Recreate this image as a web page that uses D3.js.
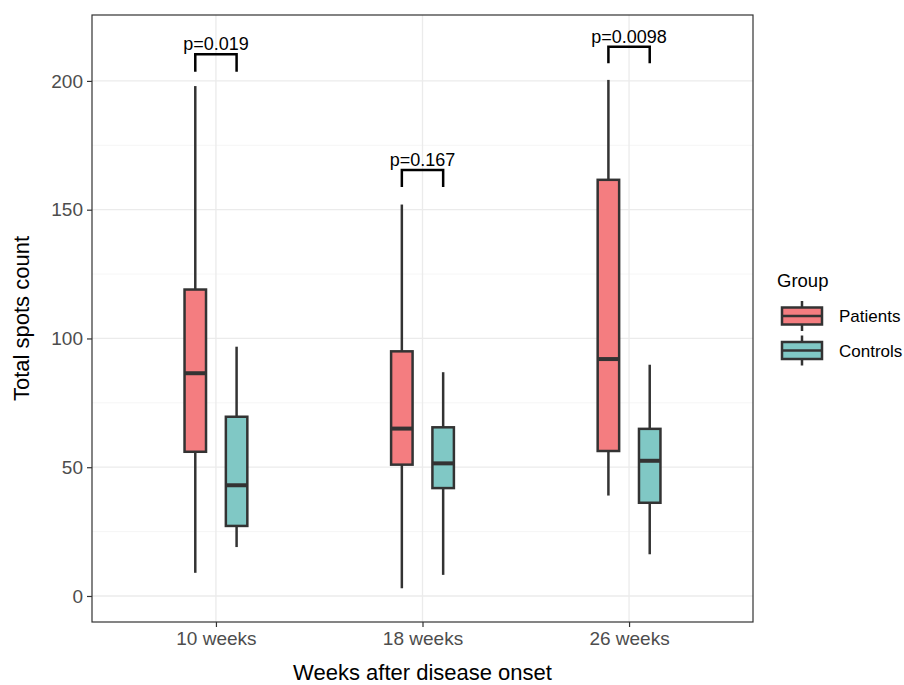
<!DOCTYPE html>
<html><head><meta charset="utf-8">
<script src="https://cdn.jsdelivr.net/npm/d3@7"></script>
<style>body{margin:0;background:#fff;font-family:Arial,"Liberation Sans",sans-serif;}</style>
</head><body><svg id="c" width="904" height="685"></svg>
<script>
const categories = ["10 weeks", "18 weeks", "26 weeks"];
const groups = ["Patients", "Controls"];
// [whiskerLow, q1, median, q3, whiskerHigh]
const patients = [[9, 56, 86.5, 119, 198], [3, 51, 65, 95, 152], [39, 56.3, 92, 161.6, 200.4]];
const controls = [[19, 27.2, 43, 69.6, 96.8], [8.2, 41.9, 51.5, 65.5, 86.9], [16.2, 36.2, 52.5, 64.9, 89.8]];
const pLabels = ["p=0.019", "p=0.167", "p=0.0098"];
const bracketTop = [210.4, 165.4, 213.3];
const bracketLeg = [203.6, 158.8, 206.9];
const yTicks = [0, 50, 100, 150, 200];
const yMinor = [25, 75, 125, 175];
const colors = {Patients: "#F47D80", Controls: "#80C8C5"};

const FONT = "Arial,'Liberation Sans',sans-serif";
const svg = d3.select("#c");
const L = 92, R = 753, T = 15, B = 622;
const y = d3.scaleLinear().domain([-10.1, 225.6]).range([B, T]);
const unit = (R - L) / 3.2;
const x = d3.scalePoint().domain(categories).range([L + 0.6 * unit, R - 0.6 * unit]);
const off = 0.1 * unit, bw = 0.104 * unit;

svg.append("rect").attr("x", L).attr("y", T).attr("width", R - L).attr("height", B - T).attr("fill", "#fff");
const grid = svg.append("g");
yMinor.forEach(v => grid.append("line").attr("x1", L).attr("x2", R).attr("y1", y(v)).attr("y2", y(v)).attr("stroke", "#f2f2f2").attr("stroke-width", 0.8));
yTicks.forEach(v => grid.append("line").attr("x1", L).attr("x2", R).attr("y1", y(v)).attr("y2", y(v)).attr("stroke", "#ebebeb").attr("stroke-width", 1.3));
categories.forEach(c => grid.append("line").attr("x1", x(c)).attr("x2", x(c)).attr("y1", T).attr("y2", B).attr("stroke", "#ebebeb").attr("stroke-width", 1.3));

function drawBox(g, cx, s, fill) {
  g.append("line").attr("x1", cx).attr("x2", cx).attr("y1", y(s[0])).attr("y2", y(s[1])).attr("stroke", "#333").attr("stroke-width", 2.5);
  g.append("line").attr("x1", cx).attr("x2", cx).attr("y1", y(s[3])).attr("y2", y(s[4])).attr("stroke", "#333").attr("stroke-width", 2.5);
  g.append("rect").attr("x", cx - bw / 2).attr("y", y(s[3])).attr("width", bw).attr("height", y(s[1]) - y(s[3]))
    .attr("fill", fill).attr("stroke", "#333").attr("stroke-width", 2.5);
  g.append("line").attr("x1", cx - bw / 2).attr("x2", cx + bw / 2).attr("y1", y(s[2])).attr("y2", y(s[2])).attr("stroke", "#333").attr("stroke-width", 4);
}
const boxes = svg.append("g");
categories.forEach((c, i) => {
  drawBox(boxes, x(c) - off, patients[i], colors.Patients);
  drawBox(boxes, x(c) + off, controls[i], colors.Controls);
  const x1 = x(c) - off, x2 = x(c) + off;
  boxes.append("path").attr("d", `M${x1},${y(bracketLeg[i])}V${y(bracketTop[i])}H${x2}V${y(bracketLeg[i])}`)
    .attr("fill", "none").attr("stroke", "#000").attr("stroke-width", 2.5);
  boxes.append("text").attr("x", x(c)).attr("y", y(bracketTop[i]) - 4).attr("text-anchor", "middle")
    .attr("font-size", 18).attr("fill", "#000").text(pLabels[i]);
});

svg.append("rect").attr("x", L).attr("y", T).attr("width", R - L).attr("height", B - T).attr("fill", "none").attr("stroke", "#333").attr("stroke-width", 1.2);

const yAxis = svg.append("g").attr("transform", `translate(${L},0)`).call(d3.axisLeft(y).tickValues(yTicks).tickSize(5).tickPadding(4));
const xAxis = svg.append("g").attr("transform", `translate(0,${B})`).call(d3.axisBottom(x).tickSize(5).tickPadding(5));
[yAxis, xAxis].forEach(a => {
  a.select(".domain").remove();
  a.selectAll(".tick line").attr("stroke", "#333").attr("stroke-width", 1.2);
  a.selectAll(".tick text").attr("fill", "#4d4d4d").attr("font-size", 19).attr("font-family", FONT);
});

svg.append("text").attr("x", (L + R) / 2).attr("y", 680).attr("text-anchor", "middle").attr("font-size", 22).attr("fill", "#000").text("Weeks after disease onset");
svg.append("text").attr("transform", `translate(29,${(T + B) / 2}) rotate(-90)`).attr("text-anchor", "middle").attr("font-size", 22).attr("fill", "#000").text("Total spots count");

const lg = svg.append("g");
lg.append("text").attr("x", 777).attr("y", 287).attr("font-size", 18.5).attr("fill", "#000").text("Group");
groups.forEach((gname, i) => {
  const cy = 316 + i * 34.5;
  lg.append("line").attr("x1", 802).attr("x2", 802).attr("y1", cy - 15).attr("y2", cy + 15).attr("stroke", "#333").attr("stroke-width", 2.5);
  lg.append("rect").attr("x", 782).attr("y", cy - 8.5).attr("width", 40).attr("height", 17).attr("fill", colors[gname]).attr("stroke", "#333").attr("stroke-width", 2.5);
  lg.append("line").attr("x1", 782).attr("x2", 822).attr("y1", cy).attr("y2", cy).attr("stroke", "#333").attr("stroke-width", 2.5);
  lg.append("text").attr("x", 839).attr("y", cy + 6).attr("font-size", 17).attr("fill", "#000").text(gname);
});
</script></body></html>
